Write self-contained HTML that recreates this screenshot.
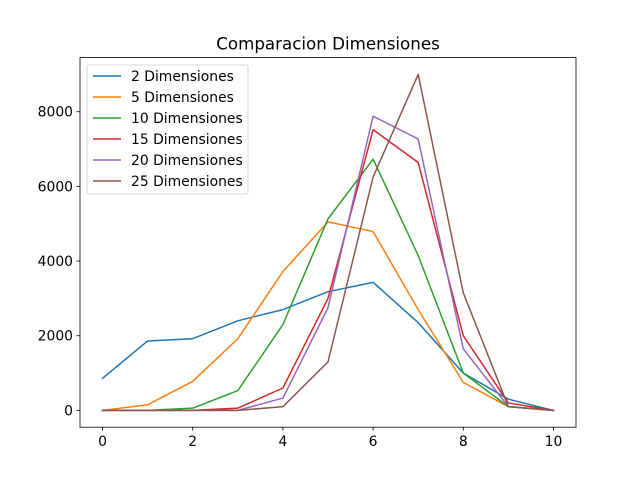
<!DOCTYPE html>
<html><head><meta charset="utf-8"><style>body{margin:0;background:#fff}svg{display:block;font-family:"DejaVu Sans","Liberation Sans",sans-serif}</style></head>
<body>
<svg id="chart" width="640" height="480" xmlns="http://www.w3.org/2000/svg"></svg>
<script>
const categories=[0,1,2,3,4,5,6,7,8,9,10];
const seriesNames=["2 Dimensiones","5 Dimensiones","10 Dimensiones","15 Dimensiones","20 Dimensiones","25 Dimensiones"];
const s2=[860,1860,1920,2400,2700,3180,3430,2350,1000,300,0];
const s5=[0,150,780,1920,3720,5050,4790,2700,750,100,0];
const s10=[0,0,60,530,2300,5130,6730,4150,1000,100,0];
const s15=[0,0,0,60,600,3000,7520,6640,2000,200,0];
const s20=[0,0,0,0,330,2750,7880,7270,1650,100,0];
const s25=[0,0,0,0,100,1300,6250,9000,3150,100,0];
const xTicks=[0,2,4,6,8,10];
const yTicks=[0,2000,4000,6000,8000];
const colors=["#1f77b4","#ff7f0e","#2ca02c","#d62728","#9467bd","#8c564b"];
const all=[s2,s5,s10,s15,s20,s25];
const L=80,R=576,T=57.6,B=427.2;
const xmin=-0.5,xmax=10.5;
const vals=all.flat();const dmin=Math.min(...vals),dmax=Math.max(...vals);const pad=(dmax-dmin)*0.05;
const ymin=dmin-pad,ymax=dmax+pad;
const X=v=>L+(v-xmin)/(xmax-xmin)*(R-L);
const Y=v=>B-(v-ymin)/(ymax-ymin)*(B-T);
const svg=document.getElementById('chart');const NS="http://www.w3.org/2000/svg";
function mk(tag,attrs,parent){const e=document.createElementNS(NS,tag);for(const k in attrs)e.setAttribute(k,attrs[k]);(parent||svg).appendChild(e);return e;}
all.forEach((s,i)=>{const p=mk('polyline',{points:s.map((v,j)=>X(categories[j])+','+Y(v)).join(' '),fill:'none',stroke:colors[i],'stroke-width':1.5,'stroke-linejoin':'round','stroke-linecap':'square'});

});
const frame=mk('rect',{x:L,y:T,width:R-L,height:B-T,fill:'none',stroke:'#000','stroke-width':0.8});


xTicks.forEach(t=>{mk('line',{x1:X(t),x2:X(t),y1:B,y2:B+3.5,stroke:'#000','stroke-width':0.8});
const tx=mk('text',{x:X(t),y:B+19,'font-size':13.9,'text-anchor':'middle'});tx.textContent=t;

});
yTicks.forEach(t=>{mk('line',{x1:L-3.5,x2:L,y1:Y(t),y2:Y(t),stroke:'#000','stroke-width':0.8});
const tx=mk('text',{x:L-7,y:Y(t)+5,'font-size':13.9,'text-anchor':'end'});tx.textContent=t;

});
const title=mk('text',{x:(L+R)/2,y:T-8,'font-size':16.7,'text-anchor':'middle'});title.textContent="Comparacion Dimensiones";


const lg=mk('g',{});


mk('rect',{x:87,y:65,width:161,height:129,rx:2,fill:'#fff','fill-opacity':0.8,stroke:'#ccc','stroke-width':0.8},lg);
seriesNames.forEach((n,i)=>{const yy=76+i*21;
const g=mk('g',{},lg);


mk('line',{x1:93,x2:121,y1:yy,y2:yy,stroke:colors[i],'stroke-width':1.5},g);
const t=mk('text',{x:131,y:yy+5,'font-size':13.9},g);t.textContent=n;});
</script>
</body></html>
